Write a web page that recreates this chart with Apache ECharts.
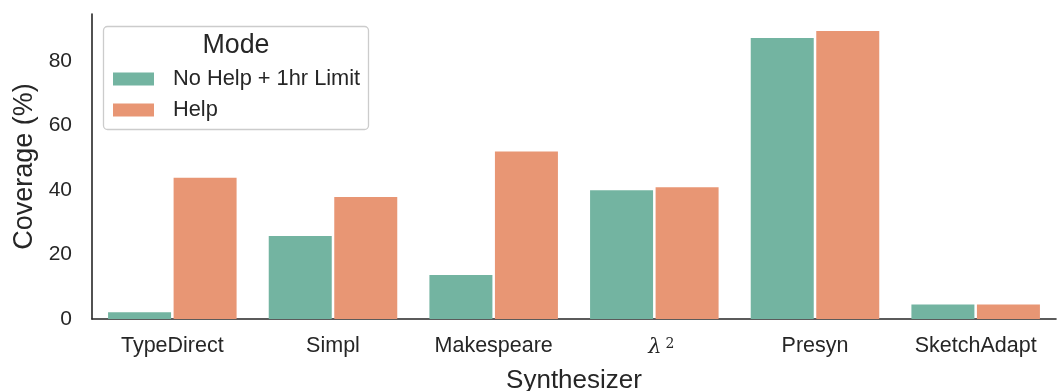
<!DOCTYPE html>
<html>
<head>
<meta charset="utf-8">
<script src="https://cdn.jsdelivr.net/npm/echarts@6/dist/echarts.min.js"></script>
<style>
  html, body { margin: 0; padding: 0; background: #ffffff; }
  #chart { width: 1058px; height: 391px; }
</style>
</head>
<body>
<div id="chart"></div>
<script>
// Coverage per synthesizer, grouped by mode
const synthesizers = ['TypeDirect', 'Simpl', 'Makespeare', 'lambda2', 'Presyn', 'SketchAdapt'];
const noHelpLimit = [2.1, 25.7, 13.6, 39.9, 87.1, 4.5];
const withHelp = [43.8, 37.8, 51.9, 40.8, 89.2, 4.5];
const seriesNames = ['No Help + 1hr Limit', 'Help'];
const yTicks = [0, 20, 40, 60, 80];

const FONT = '"Liberation Sans", Arial, sans-serif';
const INK = '#262626';

const chart = echarts.init(document.getElementById('chart'), null, { renderer: 'canvas' });

chart.setOption({
  animation: false,
  backgroundColor: '#ffffff',
  textStyle: { fontFamily: FONT, color: INK },
  grid: { left: 92, right: 2, top: 14, bottom: 72, containLabel: false, outerBoundsMode: 'none' },
  xAxis: {
    type: 'category',
    data: synthesizers,
    name: 'Synthesizer',
    nameLocation: 'middle',
    nameGap: 49,
    nameTextStyle: { fontSize: 26, color: INK, fontFamily: FONT },
    axisLine: { show: true, lineStyle: { color: INK, width: 1.6 } },
    axisTick: { show: false },
    axisLabel: {
      margin: 16,
      fontSize: 21.5,
      color: INK,
      fontFamily: FONT,
      formatter: function (v) {
        return v === 'lambda2' ? '{l|λ}{s|2}' : v;
      },
      rich: {
        l: { fontFamily: '"DejaVu Serif", serif', fontStyle: 'italic', fontSize: 21, color: INK, lineHeight: 26, verticalAlign: 'middle', padding: [0, 0, 0, 14] },
        s: { fontFamily: '"DejaVu Serif", serif', fontSize: 14, color: INK, lineHeight: 26, verticalAlign: 'top', padding: [2, 0, 0, 4] }
      }
    },
    splitLine: { show: false }
  },
  yAxis: {
    type: 'value',
    min: 0,
    max: 94.5,
    interval: 20,
    name: 'Coverage (%)',
    nameLocation: 'middle',
    nameGap: 54,
    nameTextStyle: { fontSize: 27, color: INK, fontFamily: FONT },
    axisLine: { show: true, lineStyle: { color: INK, width: 1.6 } },
    axisTick: { show: false },
    splitLine: { show: false },
    axisLabel: {
      margin: 20,
      fontSize: 21,
      color: INK,
      fontFamily: FONT,
      showMaxLabel: false,
      formatter: function (v) { return yTicks.indexOf(v) >= 0 ? String(v) : ''; }
    }
  },
  legend: {
    orient: 'vertical',
    left: 113,
    top: 67,
    padding: 0,
    itemWidth: 41,
    itemHeight: 13,
    itemGap: 7,
    icon: 'rect',
    data: seriesNames,
    textStyle: { fontSize: 21.8, lineHeight: 24, color: INK, fontFamily: FONT, padding: [0, 0, 0, 14] }
  },
  graphic: [
    {
      type: 'rect',
      z: -1,
      shape: { x: 103.5, y: 26.5, width: 265, height: 103, r: 4 },
      style: { fill: '#ffffff', stroke: '#cccccc', lineWidth: 1.3 }
    },
    {
      type: 'text',
      style: {
        x: 236, y: 46,
        text: 'Mode',
        fontSize: 26.8,
        fontFamily: FONT,
        fill: INK,
        align: 'center',
        verticalAlign: 'middle'
      }
    }
  ],
  series: [
    {
      name: seriesNames[0],
      type: 'bar',
      data: noHelpLimit,
      barWidth: 63,
      barGap: '4%',
      itemStyle: { color: '#73b4a1' }
    },
    {
      name: seriesNames[1],
      type: 'bar',
      data: withHelp,
      barWidth: 63,
      barGap: '4%',
      itemStyle: { color: '#e89674' }
    }
  ]
});
</script>
</body>
</html>
